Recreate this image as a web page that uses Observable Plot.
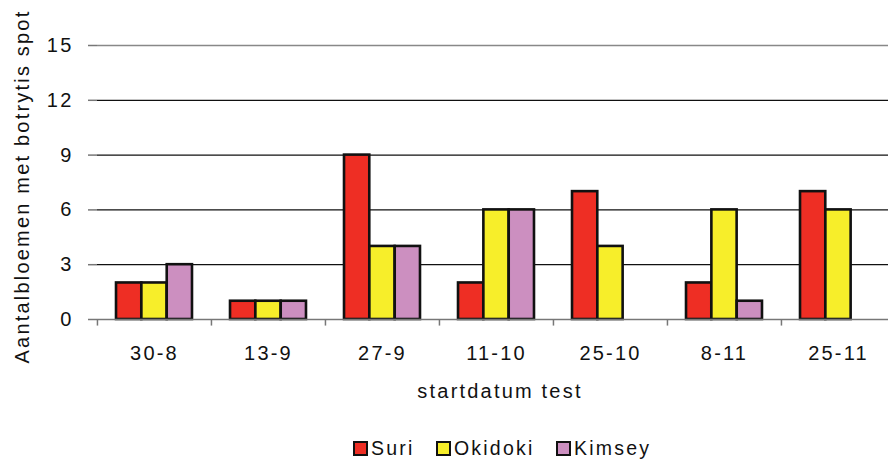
<!DOCTYPE html>
<html>
<head>
<meta charset="utf-8">
<script src="https://cdn.jsdelivr.net/npm/d3@7"></script>
<script src="https://cdn.jsdelivr.net/npm/@observablehq/plot@0.6"></script>
<style>
  html, body { margin: 0; padding: 0; background: #fff; overflow: hidden; }
  #wrap { position: relative; width: 888px; height: 459px; overflow: hidden; font-family: "Liberation Sans", Arial, sans-serif; }
  .legend-item { position: absolute; top: 437px; display: flex; align-items: center; font-size: 19.5px; letter-spacing: 2.2px; color: #111; }
  .legend-item .sw { width: 11px; height: 11px; border: 2.5px solid #111; margin-right: 3px; }
  svg [aria-label^="y-axis"] line, svg [aria-label="y-axis tick"] path, svg [aria-label^="y-axis"] path.domain { stroke: #777; stroke-width: 1.5; }
</style>
</head>
<body>
<div id="wrap"></div>
<script>
const dates = ["30-8", "13-9", "27-9", "11-10", "25-10", "8-11", "25-11"];
const series = ["Suri", "Okidoki", "Kimsey"];
const suri = [2, 1, 9, 2, 7, 2, 7];
const okidoki = [2, 1, 4, 6, 4, 6, 6];
const kimsey = [3, 1, 4, 6, 0, 1, 0];
const yTicks = [0, 3, 6, 9, 12, 15];
const colors = ["#EE2E24", "#F7EE2A", "#CC8FC0"];

const values = [suri, okidoki, kimsey];
const rows = [];
series.forEach((s, si) => dates.forEach((d, di) => {
  if (values[si][di] > 0) rows.push({date: d, series: s, si, value: values[si][di]});
}));

const xRange = [97, 895.6];
const bw = (xRange[1] - xRange[0]) / dates.length;
const pad = bw / 6;
const barW = (bw - 2 * pad) / 3;

const barMarks = series.map((s, si) =>
  Plot.barY(rows.filter(r => r.si === si), {
    x: "date", y: "value",
    fill: colors[si], stroke: "#111", strokeWidth: 2.6,
    insetLeft: pad + si * barW, insetRight: pad + (2 - si) * barW
  })
);

const chart = Plot.plot({
  width: 888,
  height: 420,
  marginTop: 45,
  marginBottom: 101,
  marginLeft: 97,
  marginRight: 0,
  style: {fontSize: "20px", fontFamily: "'Liberation Sans', Arial, sans-serif", letterSpacing: "2.2px", color: "#111", background: "#fff"},
  x: {domain: dates, range: xRange, padding: 0, tickSize: 0, tickPadding: 26, label: null},
  y: {domain: [0, 15], ticks: yTicks, tickSize: 9, tickPadding: 15, label: null, tickFormat: d => String(d)},
  marks: [
    Plot.ruleY([3, 6, 9, 12], {stroke: "#111", strokeWidth: 1.2}),
    Plot.ruleY([15], {stroke: "#888", strokeWidth: 1.5}),
    ...barMarks,
    Plot.ruleY([0], {stroke: "#777", strokeWidth: 1.5}),
    Plot.ruleX(dates, {x: d => d, y1: 0, y2: -0.36, dx: -bw / 2, stroke: "#777", strokeWidth: 1.5}),
    Plot.ruleY([0, 15], {stroke: "#777", strokeWidth: 1.5, x1: dates[0], x2: dates[0], dx: -bw / 2, y1: 0, y2: 15}),
    Plot.text(["startdatum test"], {frameAnchor: "bottom", dy: 78, dx: 7, text: d => d, fill: "#111"}),
    Plot.text(["Aantalbloemen met botrytis spot"], {frameAnchor: "left", textAnchor: "middle", rotate: -90, dx: -75, dy: 4, text: d => d, fill: "#111"})
  ]
});
document.getElementById("wrap").appendChild(chart);

const legendLeft = [353, 436, 556];
series.forEach((s, i) => {
  const item = document.createElement("div");
  item.className = "legend-item";
  item.style.left = legendLeft[i] + "px";
  item.innerHTML = `<span class="sw" style="background:${colors[i]}"></span><span>${s}</span>`;
  document.getElementById("wrap").appendChild(item);
});
</script>
</body>
</html>
